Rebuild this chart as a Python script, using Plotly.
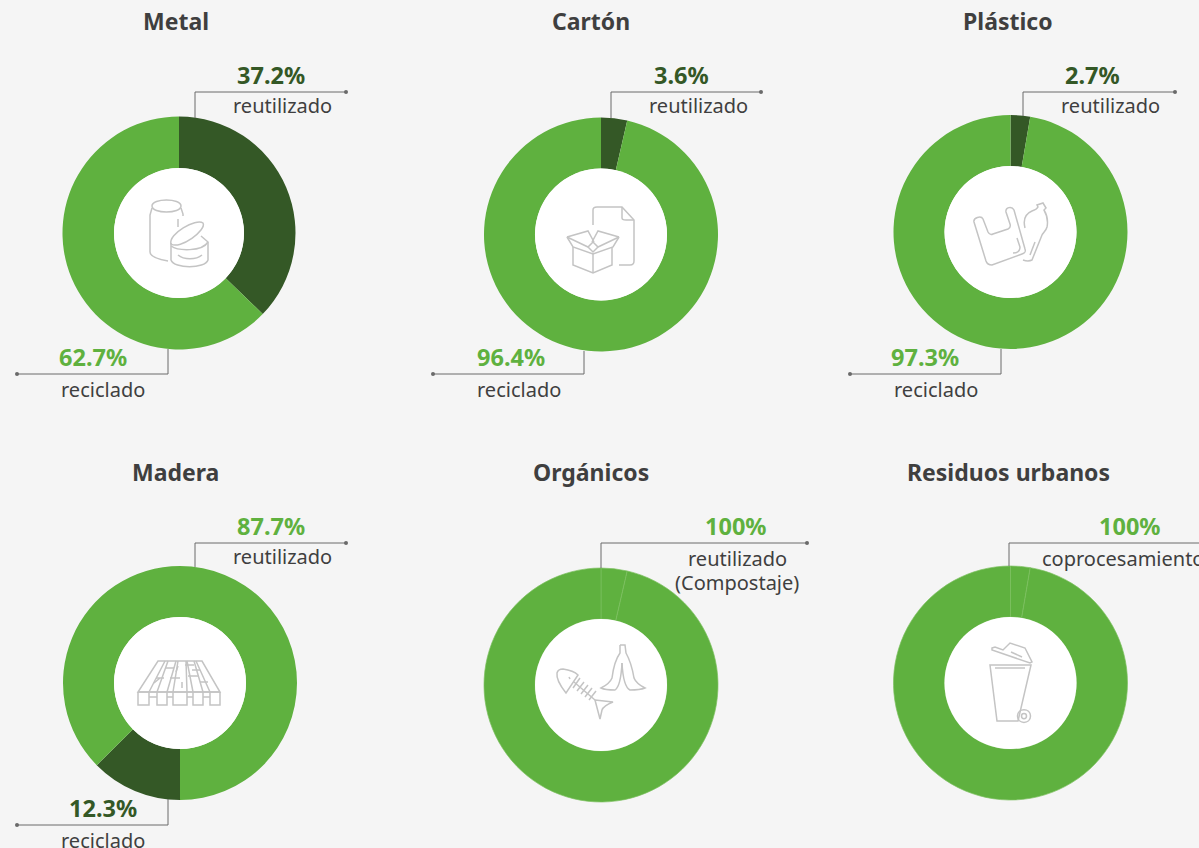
import plotly.graph_objects as go

FONT = "Noto Sans"
BG = "#f5f5f5"
GREEN = "#5fb13f"
DARK = "#345826"
TEXT = "#3f3f3f"
LINE = "#6a6a6a"
ICON = "#c4c4c4"

titles = ["Metal", "Cartón", "Plástico", "Madera", "Orgánicos", "Residuos urbanos"]
values_metal = [37.2, 62.7]
values_carton = [3.6, 96.4]
values_plastico = [2.7, 97.3]
values_madera = [50.0, 12.6, 37.4]
values_organicos = [3.6, 96.4]
values_residuos = [2.7, 97.3]
all_values = [values_metal, values_carton, values_plastico, values_madera, values_organicos, values_residuos]
colors = [[DARK, GREEN], [DARK, GREEN], [DARK, GREEN], [GREEN, DARK, GREEN], [GREEN, GREEN], [GREEN, GREEN]]
seam = [False, False, False, False, True, True]
centers = [(179, 233), (601, 234.5), (1010.5, 232), (180, 683), (601, 685), (1010.5, 683)]
radii = [116.5, 117, 117, 117, 117, 117]
inner = [65, 66, 66, 66, 66, 66]
W, H = 1199, 848

fig = go.Figure()
for name, vals, cols, s, (cx, cy), r, ri in zip(titles, all_values, colors, seam, centers, radii, inner):
    fig.add_trace(go.Pie(
        values=vals, sort=False, direction="clockwise", rotation=0, hole=ri / r,
        marker=dict(colors=cols, line=dict(color="#7cc060" if s else "rgba(0,0,0,0)", width=0.7 if s else 0)),
        textinfo="none", hoverinfo="skip", showlegend=False, name=name,
        domain=dict(x=[(cx - r) / W, (cx + r) / W], y=[1 - (cy + r) / H, 1 - (cy - r) / H]),
    ))

shapes = []
for (cx, cy), ri in zip(centers, inner):
    shapes.append(dict(type="circle", xref="x", yref="y", x0=cx - ri, x1=cx + ri, y0=cy - ri, y1=cy + ri,
                       fillcolor="white", line_width=0, layer="above"))

leaders = [
    [(195, 118), (195, 92), (346, 92)], [(168, 349), (168, 374), (17, 374)],
    [(611, 118), (611, 92), (761, 92)], [(584, 351), (584, 374), (433, 374)],
    [(1023, 116), (1023, 92), (1175, 92)], [(1001, 349), (1001, 374), (850, 374)],
    [(195, 567), (195, 543), (346, 543)], [(168, 799), (168, 825), (17, 825)],
    [(601, 568), (601, 543), (807, 543)], [(1009, 566), (1009, 543), (1205, 543)],
]
for pts in leaders:
    d = "M" + " L".join(f"{x},{y}" for x, y in pts)
    shapes.append(dict(type="path", path=d, xref="x", yref="y", line=dict(color=LINE, width=1), layer="above"))
    ex, ey = pts[-1]
    shapes.append(dict(type="circle", xref="x", yref="y", x0=ex - 2, x1=ex + 2, y0=ey - 2, y1=ey + 2,
                       fillcolor=LINE, line_width=0, layer="above"))


def icon(ox, oy, paths):
    for p in paths:
        out = []
        for tok in p.split():
            if "," in tok:
                a, b = tok.split(",")
                out.append(f"{float(a) + ox},{float(b) + oy}")
            else:
                out.append(tok)
        shapes.append(dict(type="path", path=" ".join(out), xref="x", yref="y",
                           line=dict(color=ICON, width=1.5), layer="above"))


# Metal: can and open tin
icon(110, 170, [
    "M 42,36 C 42,28 71,28 71,36 C 71,44 42,44 42,36 Z",
    "M 42,38 L 40,45 L 40,82 C 40,86 46,89 58,91",
    "M 71,38 L 73,44 L 73,46",
    "M 68,49 L 68,57",
    "M 61,74 C 58,64 86,48 93,53 C 97,60 70,80 61,74 Z",
    "M 61,73 L 61,90 C 64,99 95,99 98,90 L 98,72 L 91,66",
    "M 61,76 C 68,81 92,82 98,72",
    "M 68,85 C 74,90 86,90 92,85",
])
# Cartón: document and box
icon(520, 160, [
    "M 73,65 L 73,50 C 73,48 75,47 77,47 L 102,47 L 114,60 L 114,101 C 114,104 112,105 110,105 L 99,105",
    "M 102,47 L 102,58 C 102,60 104,60 106,60 L 114,60",
    "M 53,87 L 53,105 L 73,113 L 92,105 L 92,87",
    "M 73,113 L 73,94",
    "M 47,77 L 68,71 L 74,82",
    "M 99,77 L 78,71 L 72,82",
    "M 47,77 L 53,87 L 73,94 L 93,87 L 99,77",
    "M 47,77 L 68,87 L 73,82 L 78,87 L 99,77",
    "M 68,87 L 73,92 L 78,87",
])
# Plástico: bag and bottle
icon(940, 160, [
    "M 34,62 C 33,58 41,55 43,59 L 48,72 C 49,74 51,75 53,74 L 68,69 C 70,68 71,67 70,64 L 66,52 C 65,47 72,46 74,50 L 85,89 C 86,92 85,93 82,94 L 52,105 C 49,105 47,104 46,101 Z",
    "M 77,78 L 80,87 C 80,91 77,93 73,93",
    "M 85,68 C 83,60 85,54 92,51 C 95,50 97,49 98,47 L 97,45 L 103,43 L 106,48 L 104,50 C 107,55 108,62 107,67 C 106,71 103,73 102,75 L 92,100 C 90,101 86,101 83,100",
    "M 95,82 L 90,95",
])
# Madera: pallet
icon(110, 610, [
    "M 48,51 L 92,51 L 110,82 L 28,82 Z",
    "M 55,51 L 39,82 M 58,51 L 47,82 M 66,51 L 57,82 M 68,51 L 63,82",
    "M 76,51 L 77,82 M 77,51 L 83,82 M 84,51 L 93,82 M 86,51 L 100,82",
    "M 56,58 L 64,58 M 66,62 L 68,56 M 75,55 L 84,55 M 82,60 L 90,60",
    "M 46,68 L 54,68 M 60,68 L 70,68 M 78,66 L 88,66 M 44,73 L 50,68 M 72,72 L 72,78 M 90,72 L 98,72",
    "M 28,82 L 110,82 M 39,87 L 47,87 M 57,87 L 63,87 M 77,87 L 83,87 M 93,87 L 100,87",
    "M 28,82 L 28,95 L 39,95 L 39,82 M 47,82 L 47,95 L 57,95 L 57,82 M 63,82 L 63,95 L 77,95 L 77,82",
    "M 83,82 L 83,95 L 93,95 L 93,82 M 100,82 L 100,95 L 110,95 L 110,82",
])
# Orgánicos: fish bone and banana peel
icon(530, 610, [
    "M 27,63 C 28,59 31,59 33,59 C 40,60 45,62 48,65 L 36,83 C 32,78 26,70 27,63 Z",
    "M 39,67 L 40,69",
    "M 44,72 L 65,90",
    "M 50,68 L 43,78 M 54,72 L 47,81 M 58,75 L 51,84 M 62,78 L 55,87 M 66,81 L 59,90",
    "M 65,90 L 83,92 C 78,94 73,97 72,100 L 70,109 Z",
    "M 90,35 L 95,35 L 96,43 C 101,52 103,62 104,68 C 106,73 111,76 115,78 C 110,80 104,80 100,80 C 96,78 93,72 92,53",
    "M 90,35 L 90,43 C 85,50 83,60 82,68 C 80,73 75,76 71,78 C 75,80 81,80 85,80 C 88,78 91,72 92,53",
])
# Residuos: bin
icon(940, 610, [
    "M 50,55 L 91,55 L 78,111 L 57,111 Z",
    "M 55,58 L 85,58",
    "M 52,38 L 55,37 L 63,40 L 70,33 L 85,38 L 92,52 L 90,53 L 52,40 Z",
    "M 71,42 L 82,47",
    "M 77.5,106 C 77.5,97.5 90.5,97.5 90.5,106 C 90.5,114.5 77.5,114.5 77.5,106 Z",
    "M 81.5,106 C 81.5,102.5 86.5,102.5 86.5,106 C 86.5,109.5 81.5,109.5 81.5,106 Z",
])

title_pos = [(176, 21), (591, 21), (1008, 21), (175, 472), (591, 472), (1008, 472)]
pct_labels = ["37.2%", "62.7%", "3.6%", "96.4%", "2.7%", "97.3%", "87.7%", "12.3%", "100%", "100%"]
pct_pos = [(271, 75), (93, 357), (681, 75), (511, 357), (1092, 75), (925, 357), (271, 526), (103, 808), (736, 526), (1130, 526)]
pct_col = [DARK, GREEN, DARK, GREEN, DARK, GREEN, GREEN, DARK, GREEN, GREEN]
sub_labels = ["reutilizado", "reciclado", "reutilizado", "reciclado", "reutilizado", "reciclado", "reutilizado", "reciclado", "reutilizado", "(Compostaje)"]
sub_pos = [(282, 105), (103, 389), (698, 105), (519, 389), (1110, 105), (936, 389), (282, 556), (103, 840), (737, 558), (737, 582)]

ann = []
def add(t, x, y, size, col, bold=False, anchor="center"):
    ann.append(dict(text=f"<b>{t}</b>" if bold else t, x=x, y=y, xref="x", yref="y", showarrow=False,
                    xanchor=anchor, yanchor="middle", font=dict(family=FONT, size=size, color=col)))

for t, (x, y) in zip(titles, title_pos):
    add(t, x, y, 23, TEXT, True)
for t, (x, y), c in zip(pct_labels, pct_pos, pct_col):
    add(t, x, y, 23.5, c, True)
for t, (x, y) in zip(sub_labels, sub_pos):
    add(t, x, y, 20, TEXT)
add("coprocesamiento", 1040, 558, 20, TEXT, anchor="left")

fig.update_layout(
    width=W, height=H, margin=dict(l=0, r=0, t=0, b=0), autosize=False,
    paper_bgcolor=BG, plot_bgcolor=BG, shapes=shapes, annotations=ann,
    xaxis=dict(range=[0, W], visible=False, fixedrange=True, domain=[0, 1]),
    yaxis=dict(range=[H, 0], visible=False, fixedrange=True, domain=[0, 1]),
)
fig.add_trace(go.Scatter(x=[0], y=[0], mode="markers", marker=dict(size=1, opacity=0), showlegend=False, hoverinfo="skip"))
fig.write_html("out.html", post_script="document.body.style.margin='0';document.body.style.overflow='hidden';document.body.style.background='" + BG + "';",
               config={"displayModeBar": False})
